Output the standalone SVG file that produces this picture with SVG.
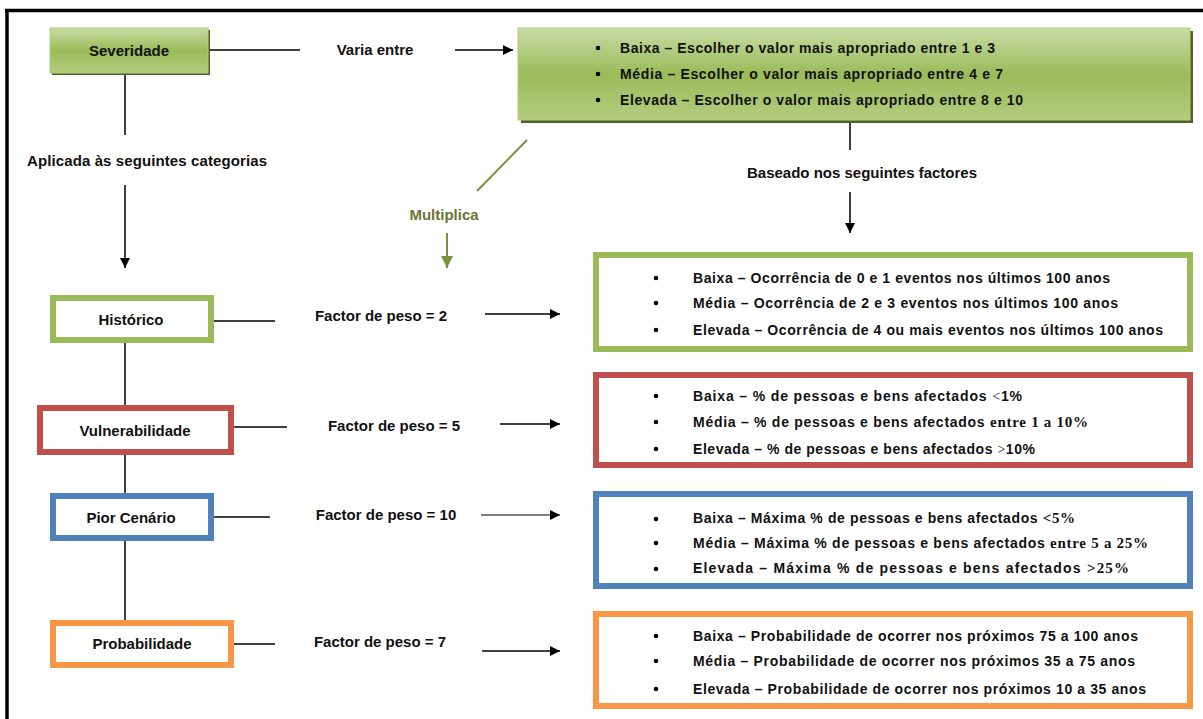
<svg xmlns="http://www.w3.org/2000/svg" width="1203" height="719" viewBox="0 0 1203 719">
<defs>
<linearGradient id="gg" x1="0" y1="0" x2="0" y2="1">
<stop offset="0" stop-color="#c8dca4"/>
<stop offset="0.5" stop-color="#9bbb59"/>
<stop offset="1" stop-color="#b3cc7f"/>
</linearGradient>
<marker id="ah" viewBox="0 0 10 10" refX="10" refY="5" markerWidth="10" markerHeight="10" markerUnits="userSpaceOnUse" orient="auto">
<path d="M0,0 L10,5 L0,10 z" fill="#000"/>
</marker>
<marker id="ahg" viewBox="0 0 10 10" refX="10" refY="5" markerWidth="12" markerHeight="12" markerUnits="userSpaceOnUse" orient="auto">
<path d="M0,0 L10,5 L0,10 z" fill="#77933c"/>
</marker>
</defs>
<style>
text{font-family:"Liberation Sans",Arial,sans-serif;font-weight:bold;font-size:15px;fill:#111;}
.c{text-anchor:middle;dominant-baseline:central;}
.l{dominant-baseline:central;font-size:14px;}
.s{font-family:"Liberation Serif","Times New Roman",serif;font-weight:normal;}
.sb{font-family:"Liberation Serif","Times New Roman",serif;font-weight:bold;font-size:15px;}
.ln{stroke:#000;stroke-width:1.5;fill:none;}
.ar{stroke:#000;stroke-width:1.5;fill:none;marker-end:url(#ah);}
.bx{fill:#fff;stroke-width:6;}
.dot{fill:#000;}
</style>
<rect x="0" y="0" width="1203" height="719" fill="#fff"/>
<g id="frame">
<line x1="5" y1="10.5" x2="1203" y2="10.5" stroke="#000" stroke-width="3.5"/>
<line x1="7" y1="9" x2="7" y2="719" stroke="#000" stroke-width="3.5"/>
</g>
<g id="connectors">
<line class="ln" x1="208" y1="50" x2="300" y2="50"/>
<line class="ar" x1="455" y1="50" x2="513" y2="50"/>
<line class="ln" x1="850" y1="122" x2="850" y2="150"/>
<line class="ar" x1="850" y1="192" x2="850" y2="233"/>
<line x1="527" y1="140" x2="477" y2="191" stroke="#77933c" stroke-width="2"/>
<line x1="447" y1="233" x2="447" y2="268" stroke="#77933c" stroke-width="2" marker-end="url(#ahg)"/>
<line class="ln" x1="125" y1="75" x2="125" y2="135"/>
<line class="ar" x1="125" y1="185" x2="125" y2="268"/>
<line class="ln" x1="125" y1="343" x2="125" y2="405"/>
<line class="ln" x1="125" y1="455" x2="125" y2="493"/>
<line class="ln" x1="125" y1="541" x2="125" y2="620"/>
<line class="ln" x1="214" y1="321" x2="275" y2="321"/>
<line class="ar" x1="485" y1="314" x2="560" y2="314"/>
<line class="ln" x1="234" y1="427" x2="287" y2="427"/>
<line class="ar" x1="500" y1="424" x2="560" y2="424"/>
<line class="ln" x1="214" y1="517" x2="270" y2="517"/>
<line x1="481" y1="515" x2="560" y2="515" stroke="#555" stroke-width="1.5" marker-end="url(#ah)"/>
<line class="ln" x1="234" y1="644" x2="275" y2="644"/>
<line class="ar" x1="482" y1="651" x2="560" y2="651"/>
</g>
<g id="labels">
<text class="c" x="375" y="49">Varia entre</text>
<text class="c" x="862" y="172">Baseado nos seguintes factores</text>
<text class="c" x="444" y="214" style="fill:#6e7431">Multiplica</text>
<text class="c" x="147" y="160" textLength="240">Aplicada às seguintes categorias</text>
<text class="c" x="381" y="315">Factor de peso = 2</text>
<text class="c" x="394" y="425">Factor de peso = 5</text>
<text class="c" x="386" y="514">Factor de peso = 10</text>
<text class="c" x="380" y="641">Factor de peso = 7</text>
</g>
<g id="severidade">
<rect x="52" y="30" width="158" height="45" fill="#4f6228"/>
<rect x="50" y="28" width="158" height="45" fill="url(#gg)" stroke="#b3cc7f" stroke-width="1"/>
<text class="c" x="129" y="50">Severidade</text>
</g>
<g id="escala">
<rect x="521" y="31" width="672" height="92" fill="#4f6228"/>
<rect x="518" y="28" width="672" height="92" fill="url(#gg)" stroke="#b3cc7f" stroke-width="1"/>
<circle class="dot" cx="598" cy="48" r="2.3"/>
<circle class="dot" cx="598" cy="74" r="2.3"/>
<circle class="dot" cx="598" cy="100" r="2.3"/>
<text class="l" x="620" y="48" textLength="375">Baixa – Escolher o valor mais apropriado entre 1 e 3</text>
<text class="l" x="620" y="74" textLength="383">Média – Escolher o valor mais apropriado entre 4 e 7</text>
<text class="l" x="620" y="100" textLength="403">Elevada – Escolher o valor mais apropriado entre 8 e 10</text>
</g>
<g id="historico">
<rect class="bx" x="53" y="298" width="158" height="42" stroke="#9bbb59"/>
<text class="c" x="131" y="319">Histórico</text>
</g>
<g id="vulnerabilidade">
<rect class="bx" x="40" y="408" width="191" height="44" stroke="#c0504d"/>
<text class="c" x="135" y="430">Vulnerabilidade</text>
</g>
<g id="pior">
<rect class="bx" x="53" y="496" width="158" height="42" stroke="#4f81bd"/>
<text class="c" x="131" y="517">Pior Cenário</text>
</g>
<g id="probabilidade">
<rect class="bx" x="53" y="623" width="178" height="42" stroke="#f79646"/>
<text class="c" x="142" y="643">Probabilidade</text>
</g>
<g id="historico-detalhe">
<rect class="bx" x="596" y="255" width="594" height="94" stroke="#9bbb59"/>
<circle class="dot" cx="656" cy="278" r="2.3"/>
<circle class="dot" cx="656" cy="303" r="2.3"/>
<circle class="dot" cx="656" cy="330" r="2.3"/>
<text class="l" x="693" y="278" textLength="417">Baixa – Ocorrência de 0 e 1 eventos nos últimos 100 anos</text>
<text class="l" x="693" y="303" textLength="425">Média – Ocorrência de 2 e 3 eventos nos últimos 100 anos</text>
<text class="l" x="693" y="330" textLength="470">Elevada – Ocorrência de 4 ou mais eventos nos últimos 100 anos</text>
</g>
<g id="vulnerabilidade-detalhe">
<rect class="bx" x="596" y="375" width="594" height="90" stroke="#c0504d"/>
<circle class="dot" cx="656" cy="396" r="2.3"/>
<circle class="dot" cx="656" cy="422" r="2.3"/>
<circle class="dot" cx="656" cy="449" r="2.3"/>
<text class="l" x="693" y="396" textLength="329">Baixa – % de pessoas e bens afectados <tspan class="s">&lt;</tspan>1%</text>
<text class="l" x="693" y="422" textLength="395">Média – % de pessoas e bens afectados <tspan class="sb">entre 1 a 10%</tspan></text>
<text class="l" x="693" y="449" textLength="342">Elevada – % de pessoas e bens afectados <tspan class="s">&gt;</tspan>10%</text>
</g>
<g id="pior-detalhe">
<rect class="bx" x="596" y="494" width="594" height="92" stroke="#4f81bd"/>
<circle class="dot" cx="656" cy="519" r="2.3"/>
<circle class="dot" cx="656" cy="543" r="2.3"/>
<circle class="dot" cx="656" cy="569" r="2.3"/>
<text class="l" x="693" y="518" textLength="382">Baixa – Máxima % de pessoas e bens afectados <tspan class="sb">&lt;5%</tspan></text>
<text class="l" x="693" y="543" textLength="455">Média – Máxima % de pessoas e bens afectados <tspan class="sb">entre 5 a 25%</tspan></text>
<text class="l" x="693" y="568" textLength="436">Elevada – Máxima % de pessoas e bens afectados <tspan class="sb">&gt;25%</tspan></text>
</g>
<g id="probabilidade-detalhe">
<rect class="bx" x="596" y="614" width="594" height="92" stroke="#f79646"/>
<circle class="dot" cx="656" cy="636" r="2.3"/>
<circle class="dot" cx="656" cy="661" r="2.3"/>
<circle class="dot" cx="656" cy="689" r="2.3"/>
<text class="l" x="693" y="636" textLength="445">Baixa – Probabilidade de ocorrer nos próximos 75 a 100 anos</text>
<text class="l" x="693" y="661" textLength="442">Média – Probabilidade de ocorrer nos próximos 35 a 75 anos</text>
<text class="l" x="693" y="689" textLength="453">Elevada – Probabilidade de ocorrer nos próximos 10 a 35 anos</text>
</g>
</svg>
